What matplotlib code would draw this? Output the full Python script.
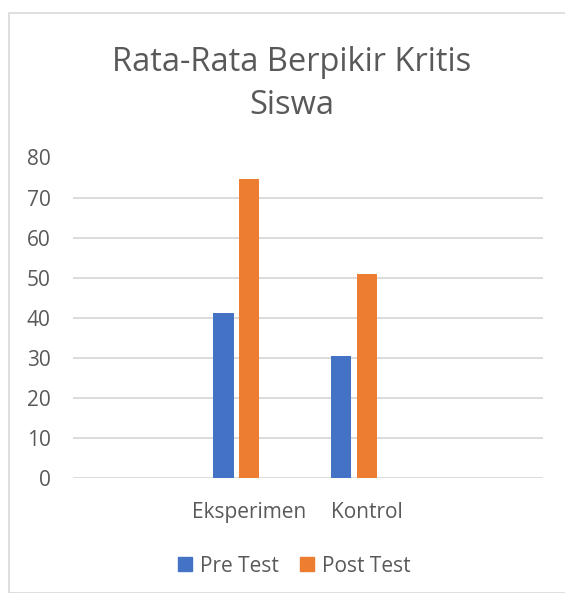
import matplotlib
matplotlib.use("Agg")
import matplotlib.pyplot as plt
import numpy as np
from matplotlib.patches import Rectangle, Patch

categories = ["", "Eksperimen", "Kontrol", ""]
pre_test = [np.nan, 41.2, 30.5, np.nan]
post_test = [np.nan, 74.7, 50.9, np.nan]
series_names = ["Pre Test", "Post Test"]
title = "Rata-Rata Berpikir Kritis\nSiswa"

plt.rcParams['font.family'] = ['Open Sans', 'DejaVu Sans']
txt = '#595959'
blue = '#4472C4'
orange = '#ED7D31'

W, H = 565, 593
fig = plt.figure(figsize=(W/100, H/100), dpi=100)
fig.add_artist(Rectangle((9/W, 0), 1.2, 1 - 13/H, transform=fig.transFigure,
                         fill=False, edgecolor='#d9d9d9', linewidth=1.2))

ax = fig.add_axes([73/W, 1 - 478/H, (543-73)/W, (478-157.5)/H])
x = np.arange(len(categories))
bw = 0.174
off = 0.221
ax.bar(x - off, pre_test, bw, color=blue, label=series_names[0], zorder=3)
ax.bar(x, post_test, bw, color=orange, label=series_names[1], zorder=3)

ax.set_xlim(-0.5, len(categories) - 0.5)
ax.set_ylim(0, 80)
ax.set_yticks(np.arange(0, 81, 10))
ax.set_xticks(x)
ax.set_xticklabels(categories)
ax.grid(axis='y', color='#d9d9d9', linewidth=1.3, zorder=0)
for s in ax.spines.values():
    s.set_visible(False)
ax.tick_params(axis='both', length=0, colors=txt, labelsize=15)
ax.tick_params(axis='y', pad=16)
ax.tick_params(axis='x', pad=17)

fig.text(291.5 / W, 1 - 84/H, title, ha='center', va='center',
         fontsize=23.5, color=txt, linespacing=1.38)

handles = [Patch(color=blue), Patch(color=orange)]
fig.legend(handles, series_names, loc='center', bbox_to_anchor=(294.5/W, 1 - 566/H),
           ncol=2, frameon=False, fontsize=15, labelcolor=txt,
           handlelength=0.65, handleheight=0.65, handletextpad=0.4, columnspacing=1.0)

fig.savefig("out.png", dpi=100)
